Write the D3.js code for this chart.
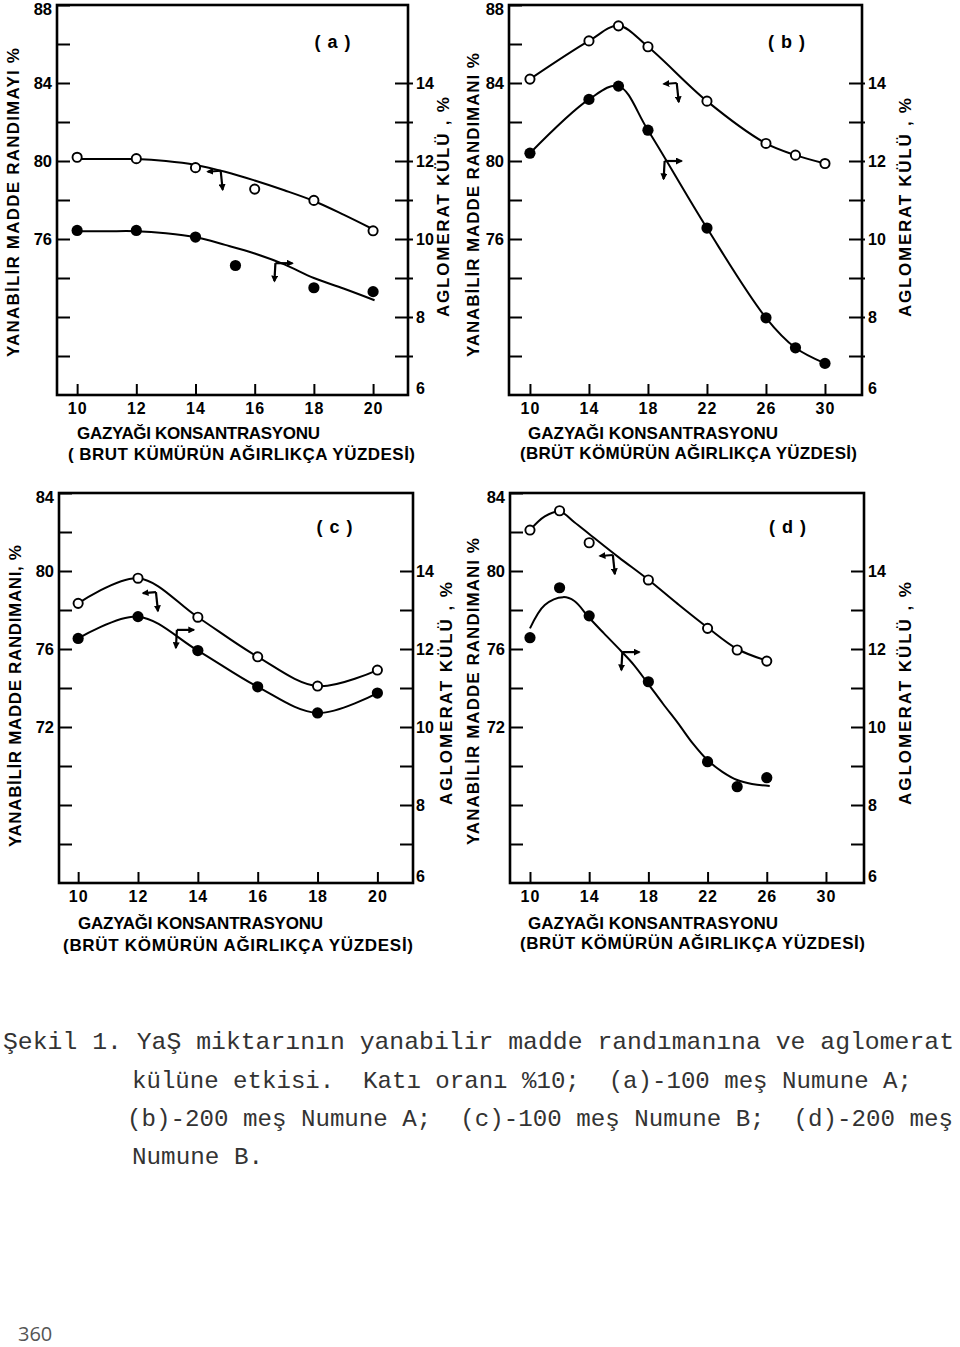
<!DOCTYPE html>
<html><head><meta charset="utf-8">
<script src="https://cdn.jsdelivr.net/npm/d3@7"></script>
<style>body{margin:0;background:#fff} svg{display:block}</style>
</head><body>
<svg id="chart" width="960" height="1347"></svg>
<script>
// ---------------- DATA ----------------
const xTicksAC = [10, 12, 14, 16, 18, 20];
const xTicksBD = [10, 14, 18, 22, 26, 30];
const yieldTicksAB = [70, 72, 74, 76, 78, 80, 82, 84, 86, 88];
const yieldLabelsAB = [88, 84, 80, 76];
const yieldTicksCD = [66, 68, 70, 72, 74, 76, 78, 80, 82, 84];
const yieldLabelsCD = [84, 80, 76, 72];
const ashTicks = [6, 7, 8, 9, 10, 11, 12, 13, 14];
const ashLabels = [14, 12, 10, 8, 6];

// (a) -100 mesh, sample A
const xOpenA = [10, 12, 14, 16, 18, 20];
const yieldA = [80.19, 80.12, 79.66, 78.56, 77.98, 76.42];
const xFilledA = [10, 12, 14, 15.35, 18, 20];
const ashA = [10.22, 10.22, 10.05, 9.32, 8.75, 8.65];
const fitXOpenA = [10, 11, 12, 13, 14, 15, 16, 17, 18, 19, 20];
const fitYieldA = [80.1, 80.1, 80.1, 80.0, 79.8, 79.45, 79.0, 78.5, 77.95, 77.25, 76.5];
const fitXFilledA = [10, 11, 12, 13, 14, 15, 16, 17, 18, 19, 20.05];
const fitAshA = [10.2, 10.2, 10.2, 10.15, 10.05, 9.85, 9.63, 9.35, 9.0, 8.73, 8.43];
const arrowOpenA = [14.85, 79.5];
const arrowFilledA = [16.7, 9.38];

// (b) -200 mesh, sample A
const xB = [10, 14, 16, 18, 22, 26, 28, 30];
const yieldB = [84.2, 86.16, 86.93, 85.86, 83.07, 80.9, 80.3, 79.87];
const ashB = [12.2, 13.58, 13.92, 12.79, 10.28, 7.98, 7.21, 6.81];
const arrowOpenB = [19.95, 84.0];
const arrowFilledB = [19.13, 12.0];

// (c) -100 mesh, sample B
const xC = [10, 12, 14, 16, 18, 20];
const yieldC = [78.34, 79.63, 77.63, 75.6, 74.1, 74.92];
const ashC = [12.27, 12.83, 11.96, 11.03, 10.36, 10.87];
const arrowOpenC = [12.6, 78.92];
const arrowFilledC = [13.3, 12.49];

// (d) -200 mesh, sample B
const xD = [10, 12, 14, 18, 22, 24, 26];
const yieldD = [82.1, 83.09, 81.45, 79.54, 77.06, 75.95, 75.38];
const ashD = [12.29, 13.57, 12.85, 11.16, 9.11, 8.47, 8.7];
const fitXOpenD = [10, 11, 12, 13, 14, 16, 18, 20, 22, 24, 26];
const fitYieldD = [82.1, 82.8, 83.05, 82.5, 81.9, 80.7, 79.55, 78.3, 77.1, 76.0, 75.4];
const fitXFilledD = [10, 11, 12.25, 13, 14, 15, 16.2, 17, 18, 19, 20, 21, 22, 23, 24, 25, 26.2];
const fitAshD = [12.53, 13.13, 13.33, 13.23, 12.8, 12.4, 11.93, 11.6, 11.1, 10.59, 10.1, 9.58, 9.15, 8.85, 8.64, 8.54, 8.49];
const arrowOpenD = [15.6, 80.82];
const arrowFilledD = [16.24, 11.92];

const captionLines = [
  "Şekil 1. YaŞ miktarının yanabilir madde randımanına ve aglomerat",
  "külüne etkisi.  Katı oranı %10;  (a)-100 meş Numune A;",
  "(b)-200 meş Numune A;  (c)-100 meş Numune B;  (d)-200 meş",
  "Numune B."
];
const pageNumber = "360";

// ---------------- DRAWING ----------------
const svg = d3.select('#chart');
const SANS = '"Liberation Sans", Arial, Helvetica, sans-serif';
const zip = (a, b) => a.map((v, i) => [v, b[i]]);

const defs = svg.append('defs');
defs.append('marker').attr('id', 'ah').attr('viewBox', '0 0 10 10')
  .attr('refX', 8).attr('refY', 5).attr('markerWidth', 7).attr('markerHeight', 7)
  .attr('markerUnits', 'userSpaceOnUse').attr('orient', 'auto')
  .append('path').attr('d', 'M0,0 L10,5 L0,10 Z').attr('fill', '#000');

const panels = [
  { id: 'a', left: 57, right: 408, top: 5, bottom: 395, xDomain: [9.32, 21.18], yDomain: [68, 88],
    xTicks: xTicksAC, yTicks: yieldTicksAB, yLabels: yieldLabelsAB, rPad: 8, rExt: 5,
    open: zip(xOpenA, yieldA), filled: zip(xFilledA, ashA),
    fitOpen: zip(fitXOpenA, fitYieldA), fitFilled: zip(fitXFilledA, fitAshA),
    arrOpen: arrowOpenA, arrFilled: arrowFilledA,
    yTitle: "YANABİLİR MADDE RANDIMAYI  %", yT: [13, 357, 48],
    y2Title: "AGLOMERAT KÜLÜ , %", y2T: [443, 317, 97],
    x1: ["GAZYAĞI KONSANTRASYONU", 77, 320, 433],
    x2: ["( BRUT KÜMÜRÜN AĞIRLIKÇA YÜZDESİ)", 68, 415, 454],
    label: "( a )", lab: [333, 42] },
  { id: 'b', left: 509, right: 862, top: 5, bottom: 395, xDomain: [8.58, 32.51], yDomain: [68, 88],
    xTicks: xTicksBD, yTicks: yieldTicksAB, yLabels: yieldLabelsAB, rPad: 6, rExt: 3,
    open: zip(xB, yieldB), filled: zip(xB, ashB),
    fitOpen: zip(xB, yieldB), fitFilled: zip(xB, ashB),
    arrOpen: arrowOpenB, arrFilled: arrowFilledB,
    yTitle: "YANABİLİR MADDE RANDIMANI %", yT: [473, 357, 53],
    y2Title: "AGLOMERAT KÜLÜ , %", y2T: [905, 317, 98],
    x1: ["GAZYAĞI KONSANTRASYONU", 528, 778, 433],
    x2: ["(BRÜT KÖMÜRÜN AĞIRLIKÇA YÜZDESİ)", 520, 857, 453],
    label: "( b )", lab: [787, 42] },
  { id: 'c', left: 59, right: 413, top: 493, bottom: 883, xDomain: [9.36, 21.19], yDomain: [64, 84],
    xTicks: xTicksAC, yTicks: yieldTicksCD, yLabels: yieldLabelsCD, rPad: 3, rExt: 0,
    open: zip(xC, yieldC), filled: zip(xC, ashC),
    fitOpen: zip(xC, yieldC), fitFilled: zip(xC, ashC),
    arrOpen: arrowOpenC, arrFilled: arrowFilledC,
    yTitle: "YANABİLİR MADDE RANDIMANI, %", yT: [15, 847, 545],
    y2Title: "AGLOMERAT KÜLÜ , %", y2T: [446, 805, 582],
    x1: ["GAZYAĞI KONSANTRASYONU", 78, 323, 923],
    x2: ["(BRÜT KÖMÜRÜN AĞIRLIKÇA YÜZDESİ)", 63, 413, 945],
    label: "( c )", lab: [335, 527] },
  { id: 'd', left: 510, right: 864, top: 493, bottom: 883, xDomain: [8.65, 32.57], yDomain: [64, 84],
    xTicks: xTicksBD, yTicks: yieldTicksCD, yLabels: yieldLabelsCD, rPad: 4, rExt: 1,
    open: zip(xD, yieldD), filled: zip(xD, ashD),
    fitOpen: zip(fitXOpenD, fitYieldD), fitFilled: zip(fitXFilledD, fitAshD),
    arrOpen: arrowOpenD, arrFilled: arrowFilledD,
    yTitle: "YANABİLİR MADDE RANDIMANI %", yT: [473, 845, 538],
    y2Title: "AGLOMERAT KÜLÜ , %", y2T: [905, 805, 582],
    x1: ["GAZYAĞI KONSANTRASYONU", 528, 778, 923],
    x2: ["(BRÜT KÖMÜRÜN AĞIRLIKÇA YÜZDESİ)", 520, 865, 943],
    label: "( d )", lab: [788, 527] }
];

function styleAxis(sel, size) {
  sel.select('.domain').remove();
  sel.selectAll('line').attr('stroke', '#000').attr('stroke-width', 2);
  sel.selectAll('text').attr('font-family', SANS).attr('font-size', size)
    .attr('font-weight', 'bold').attr('fill', '#000');
}

panels.forEach(p => {
  const g = svg.append('g').attr('class', 'panel-' + p.id);
  const x = d3.scaleLinear().domain(p.xDomain).range([p.left, p.right]);
  const y = d3.scaleLinear().domain(p.yDomain).range([p.bottom, p.top]);
  const y2 = d3.scaleLinear().domain([6, 16]).range([p.bottom, p.top]);

  // bottom axis: ticks inward, labels below
  const ax = g.append('g').attr('transform', `translate(0,${p.bottom})`)
    .call(d3.axisBottom(x).tickValues(p.xTicks).tickSizeInner(-11).tickSizeOuter(0).tickPadding(8));
  styleAxis(ax, 16);
  ax.selectAll('text').attr('letter-spacing', 1);

  // left axis
  const ay = g.append('g').attr('transform', `translate(${p.left},0)`)
    .call(d3.axisLeft(y).tickValues(p.yTicks).tickSizeInner(-13).tickSizeOuter(0).tickPadding(5)
      .tickFormat(d => p.yLabels.includes(d) ? d : ''));
  styleAxis(ay, 16.5);
  ay.selectAll('.tick').filter(d => d === p.yDomain[1]).select('text').attr('dy', '0.55em');

  // right axis
  const ay2 = g.append('g').attr('transform', `translate(${p.right},0)`)
    .call(d3.axisRight(y2).tickValues(ashTicks).tickSizeInner(-13).tickSizeOuter(0).tickPadding(p.rPad)
      .tickFormat(d => ashLabels.includes(d) ? d : ''));
  styleAxis(ay2, 16);
  ay2.selectAll('.tick line').attr('x1', p.rExt);
  ay2.selectAll('.tick').filter(d => d === 6).select('line').remove();
  ay2.selectAll('.tick').filter(d => d === 6).select('text').attr('dy', '-0.1em');

  // frame
  g.append('rect').attr('x', p.left).attr('y', p.top)
    .attr('width', p.right - p.left).attr('height', p.bottom - p.top)
    .attr('fill', 'none').attr('stroke', '#000').attr('stroke-width', 2.6);

  // curves
  const lineY = d3.line().x(d => x(d[0])).y(d => y(d[1])).curve(d3.curveCatmullRom.alpha(0.5));
  const lineY2 = d3.line().x(d => x(d[0])).y(d => y2(d[1])).curve(d3.curveCatmullRom.alpha(0.5));
  g.append('path').attr('d', lineY(p.fitOpen)).attr('fill', 'none').attr('stroke', '#000').attr('stroke-width', 2);
  g.append('path').attr('d', lineY2(p.fitFilled)).attr('fill', 'none').attr('stroke', '#000').attr('stroke-width', 2);

  // axis-indicator arrows
  const ox = x(p.arrOpen[0]), oy = y(p.arrOpen[1]);
  const fx = x(p.arrFilled[0]), fy = y2(p.arrFilled[1]);
  const arrows = [
    [ox, oy, ox - 13, oy + 1], [ox, oy, ox + 2, oy + 19],
    [fx, fy, fx + 17, fy], [fx, fy, fx - 1, fy + 18]
  ];
  g.selectAll('line.arr').data(arrows).join('line').attr('class', 'arr')
    .attr('x1', d => d[0]).attr('y1', d => d[1]).attr('x2', d => d[2]).attr('y2', d => d[3])
    .attr('stroke', '#000').attr('stroke-width', 2.2).attr('marker-end', 'url(#ah)');

  // points
  g.selectAll('circle.open').data(p.open).join('circle').attr('class', 'open')
    .attr('cx', d => x(d[0])).attr('cy', d => y(d[1])).attr('r', 4.6)
    .attr('fill', '#fff').attr('stroke', '#000').attr('stroke-width', 1.9);
  g.selectAll('circle.filled').data(p.filled).join('circle').attr('class', 'filled')
    .attr('cx', d => x(d[0])).attr('cy', d => y2(d[1])).attr('r', 5.6).attr('fill', '#000');

  // titles
  const tt = (txt, cx, cy, len, rot) => g.append('text').text(txt)
    .attr('transform', `translate(${cx},${cy})` + (rot ? ' rotate(-90)' : ''))
    .attr('text-anchor', 'middle').attr('dominant-baseline', 'central')
    .attr('font-family', SANS).attr('font-weight', 'bold').attr('font-size', 17)
    .attr('textLength', len).attr('lengthAdjust', 'spacing');
  tt(p.yTitle, p.yT[0], (p.yT[1] + p.yT[2]) / 2, p.yT[1] - p.yT[2], true);
  tt(p.y2Title, p.y2T[0], (p.y2T[1] + p.y2T[2]) / 2, p.y2T[1] - p.y2T[2], true);
  tt(p.x1[0], (p.x1[1] + p.x1[2]) / 2, p.x1[3], p.x1[2] - p.x1[1], false);
  tt(p.x2[0], (p.x2[1] + p.x2[2]) / 2, p.x2[3], p.x2[2] - p.x2[1], false);

  g.append('text').text(p.label).attr('x', p.lab[0]).attr('y', p.lab[1])
    .attr('text-anchor', 'middle').attr('dominant-baseline', 'central')
    .attr('font-family', SANS).attr('font-weight', 'bold').attr('font-size', 18)
    .attr('letter-spacing', 1);
});

// caption
const capX = [3, 132, 127, 132];
const capEnd = [954, 912, 953, 263];
const capY = [1049, 1088, 1126, 1164];
svg.selectAll('text.cap').data(captionLines).join('text').attr('class', 'cap')
  .attr('x', (d, i) => capX[i]).attr('y', (d, i) => capY[i])
  .attr('textLength', (d, i) => capEnd[i] - capX[i]).attr('lengthAdjust', 'spacingAndGlyphs')
  .attr('font-family', '"Liberation Mono", "Courier New", monospace').attr('font-size', 24)
  .attr('fill', '#333').attr('xml:space', 'preserve').style('white-space', 'pre')
  .text(d => d);

svg.append('text').text(pageNumber).attr('x', 18).attr('y', 1341)
  .attr('font-family', '"Open Sans", sans-serif').attr('font-size', 20).attr('fill', '#555');
</script>
</body></html>
